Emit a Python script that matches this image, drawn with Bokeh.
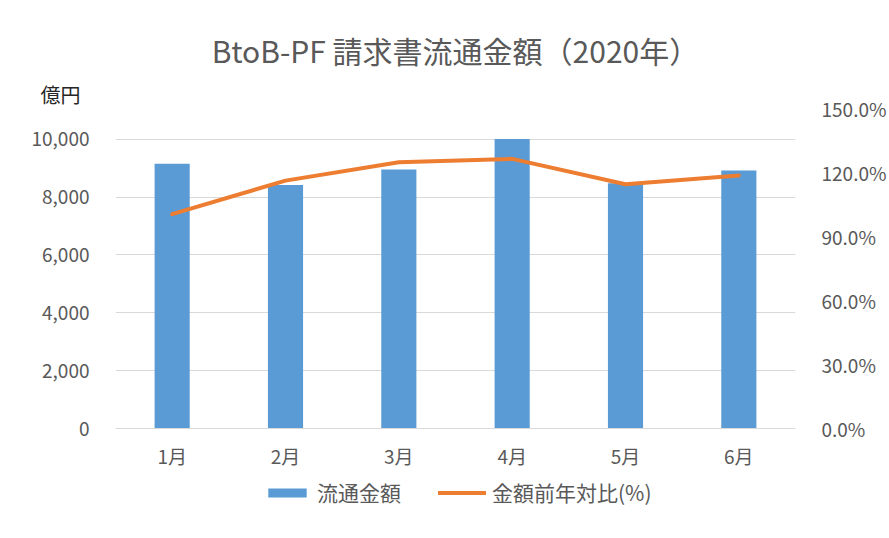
from bokeh.plotting import figure
from bokeh.models import (Range1d, LinearAxis, FactorRange, FixedTicker, NumeralTickFormatter,
                          Legend, LegendItem, Title, ColumnDataSource)
from bokeh.embed import file_html
from bokeh.resources import INLINE

# ---- data ----
months = ["1月", "2月", "3月", "4月", "5月", "6月"]
amount = [9150, 8420, 8950, 10010, 8480, 8920]          # 億円
yoy = [1.005, 1.162, 1.248, 1.264, 1.145, 1.186]        # 前年対比
left_ticks = [0, 2000, 4000, 6000, 8000, 10000]
right_ticks = [0.0, 0.3, 0.6, 0.9, 1.2, 1.5]
title_text = "BtoB-PF 請求書流通金額（2020年）"
unit_text = "億円"
bar_label = "流通金額"
line_label = "金額前年対比(%)"

FONT = "Noto Sans CJK JP"
GREY = "#595959"

src = ColumnDataSource(data=dict(month=months, amount=amount, yoy=yoy))

# frame runs from the title area down to the legend; zero sits 80px above the frame bottom
p = figure(width=889, height=538, x_range=FactorRange(*months), y_range=Range1d(-2765, 11060),
           output_backend="svg", toolbar_location=None, title_location=None,
           min_border_left=115, min_border_right=90, min_border_top=108, min_border_bottom=30)
p.extra_y_ranges = {"pct": Range1d(-0.375, 1.5)}
p.outline_line_color = None
p.background_fill_color = "white"
p.border_fill_color = "white"

bars = p.vbar(x="month", top="amount", width=0.31, source=src,
              fill_color="#5B9BD5", line_color=None)
line = p.line(x="month", y="yoy", source=src, y_range_name="pct",
              line_color="#ED7D31", line_width=4, line_join="round", line_cap="round")

# axes
p.xgrid.visible = False
p.ygrid.ticker = FixedTicker(ticks=left_ticks)
p.ygrid.grid_line_color = "#D9D9D9"
p.ygrid.grid_line_width = 1

yl = p.yaxis[0]
yl.ticker = FixedTicker(ticks=left_ticks)
yl.formatter = NumeralTickFormatter(format="0,0")
yr = LinearAxis(y_range_name="pct", ticker=FixedTicker(ticks=right_ticks),
                formatter=NumeralTickFormatter(format="0.0%"))
p.add_layout(yr, "right")
for ax in (yl, yr):
    ax.axis_line_color = None
    ax.major_tick_line_color = None
    ax.minor_tick_line_color = None
    ax.major_label_standoff = 20
    ax.major_label_text_font = FONT
    ax.major_label_text_font_size = "19px"
    ax.major_label_text_color = GREY

xa = p.xaxis[0]
xa.fixed_location = 0
xa.axis_line_color = "#D9D9D9"
xa.major_tick_line_color = None
xa.minor_tick_line_color = None
xa.major_label_standoff = 7
xa.major_label_text_font = FONT
xa.major_label_text_font_size = "19px"
xa.major_label_text_color = GREY

# unit label (inner) and main title (outer) above the frame
p.add_layout(Title(text=unit_text, align="left", offset=-75, standoff=0,
                   text_font=FONT, text_font_size="20px", text_font_style="normal",
                   text_color="#262626"), "above")
p.add_layout(Title(text=title_text, align="center", standoff=12,
                   text_font=FONT, text_font_size="30px", text_font_style="normal",
                   text_color=GREY), "above")

# legend inside the lower part of the frame, under the axis labels
legend = Legend(items=[LegendItem(label=bar_label, renderers=[bars]),
                       LegendItem(label=line_label, renderers=[line])],
                location=(148, 1), orientation="horizontal",
                glyph_width=48, glyph_height=11, label_standoff=6, spacing=37,
                padding=0, margin=0, border_line_color=None, background_fill_alpha=0,
                label_text_font=FONT, label_text_font_size="21px", label_text_color=GREY)
p.add_layout(legend, "center")

open("out.html", "w").write(file_html(p, INLINE))
